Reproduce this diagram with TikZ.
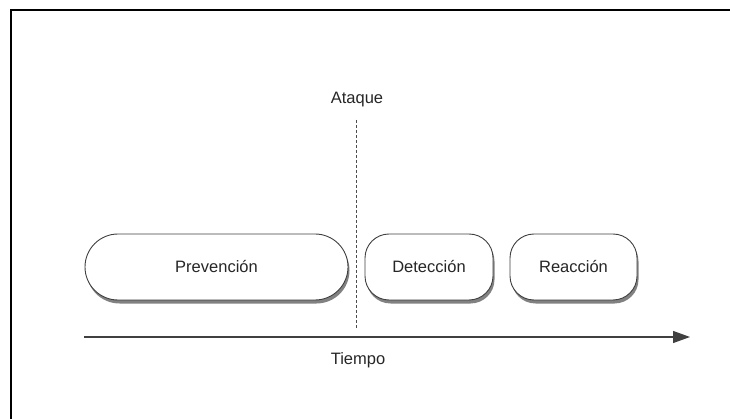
\documentclass[tikz,border=0pt]{standalone}
\usepackage{fontspec}
\setmainfont{Liberation Sans}
\usetikzlibrary{shadows,arrows.meta}
\begin{document}
\begin{tikzpicture}[x=1pt,y=-1pt,
  lbl/.style={font=\fontsize{16.5}{20}\selectfont, text=black!85},
  phase/.style={draw=black!75, line width=0.9pt, fill=white, lbl,
    drop shadow={shadow xshift=1.5pt, shadow yshift=-3.5pt, fill=black!70, opacity=0.7},
    inner sep=0pt},
]
\useasboundingbox (0,0) rectangle (730,419);
\draw[line width=2pt] (11,420) -- (11,10) -- (731,10);
\node[phase, minimum width=263pt, minimum height=66pt, rounded corners=33pt] (prev) at (216.5,267) {Prevención};
\node[phase, minimum width=128pt, minimum height=66pt, rounded corners=24pt] (det) at (429,267) {Detección};
\node[phase, minimum width=127pt, minimum height=66pt, rounded corners=24pt] (rea) at (573.5,267) {Reacción};
\node[lbl] (ataque) at (357,100) {Ataque};
\coordinate (dtop) at (356,120);
\coordinate (dbot) at (356,329);
\draw[black!70, line width=0.9pt, dash pattern=on 3pt off 2pt] (dtop) -- (dbot);
\coordinate (ax0) at (84,337);
\coordinate (ax1) at (690,337);
\draw[black!75, line width=1.2pt, -{Triangle[length=17pt,width=12pt]}] (ax0) -- (ax1);
\node[lbl] (tiempo) at (358,360) {Tiempo};
\end{tikzpicture}
\end{document}
